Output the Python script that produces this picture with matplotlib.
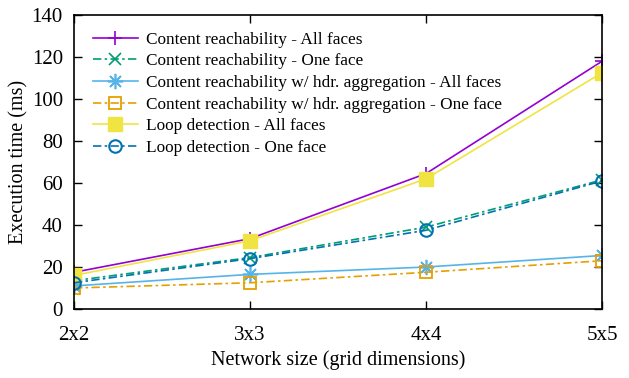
import matplotlib
matplotlib.use("Agg")
import matplotlib.pyplot as plt

plt.rcParams['font.family'] = ['Liberation Serif', 'DejaVu Serif']

# grid sizes on the x axis
sizes = ['2x2', '3x3', '4x4', '5x5']

# execution time (ms)
cr_all = [17.5, 33.5, 64.5, 118]
cr_one = [13.5, 24.5, 39, 61.5]
cr_hdr_all = [11, 16.5, 20, 25.5]
cr_hdr_one = [10, 12.5, 17.5, 23]
loop_all = [16, 32.5, 62, 112.5]
loop_one = [12.5, 24, 37.5, 61]

labels = ['Content reachability - All faces',
          'Content reachability - One face',
          'Content reachability w/ hdr. aggregation - All faces',
          'Content reachability w/ hdr. aggregation - One face',
          'Loop detection - All faces',
          'Loop detection - One face']

fig = plt.figure(figsize=(6.29, 3.78), dpi=100)
ax = fig.add_axes([0.1176, 0.1825, 0.8394, 0.7775])

x = list(range(len(sizes)))
dashdot = (0, (5, 2, 1.5, 2))
lw = 1.2

ax.plot(x, cr_all, color='#9400D3', lw=lw, ls='-', marker='+', ms=10, mew=1.2, label=labels[0])
ax.plot(x, cr_one, color='#009E73', lw=lw, ls=dashdot, marker='x', ms=8, mew=1.2, label=labels[1])
ax.plot(x, cr_hdr_all, color='#56B4E9', lw=lw, ls='-', marker=(8, 2, 0), ms=11, mew=1.2, label=labels[2])
ax.plot(x, cr_hdr_one, color='#E69F00', lw=lw, ls=dashdot, marker='s', ms=9, mew=1.3,
        fillstyle='none', label=labels[3])
ax.plot(x, loop_all, color='#F0E442', lw=lw, ls='-', marker='s', ms=10, label=labels[4])
ax.plot(x, loop_one, color='#0072B2', lw=lw, ls=dashdot, marker='o', ms=9, mew=1.5,
        fillstyle='none', label=labels[5])

ax.set_xlim(0, 3)
ax.set_ylim(0, 140)
ax.set_xticks(x)
ax.set_xticklabels(sizes)
ax.set_yticks(range(0, 141, 20))
ax.tick_params(direction='in', length=6, width=1, labelsize=15, top=True, right=True, pad=8)
ax.tick_params(axis='x', pad=12)
for s in ax.spines.values():
    s.set_linewidth(1.2)

ax.set_xlabel('Network size (grid dimensions)', fontsize=14.5, labelpad=4)
ax.set_ylabel('Execution time (ms)', fontsize=14.5, labelpad=2)

ax.legend(loc='upper left', bbox_to_anchor=(0.005, 1.0), frameon=False, fontsize=12.4,
          handlelength=2.6, handletextpad=0.47, labelspacing=0.33, borderaxespad=0.55)

fig.savefig('out.png', dpi=100)
